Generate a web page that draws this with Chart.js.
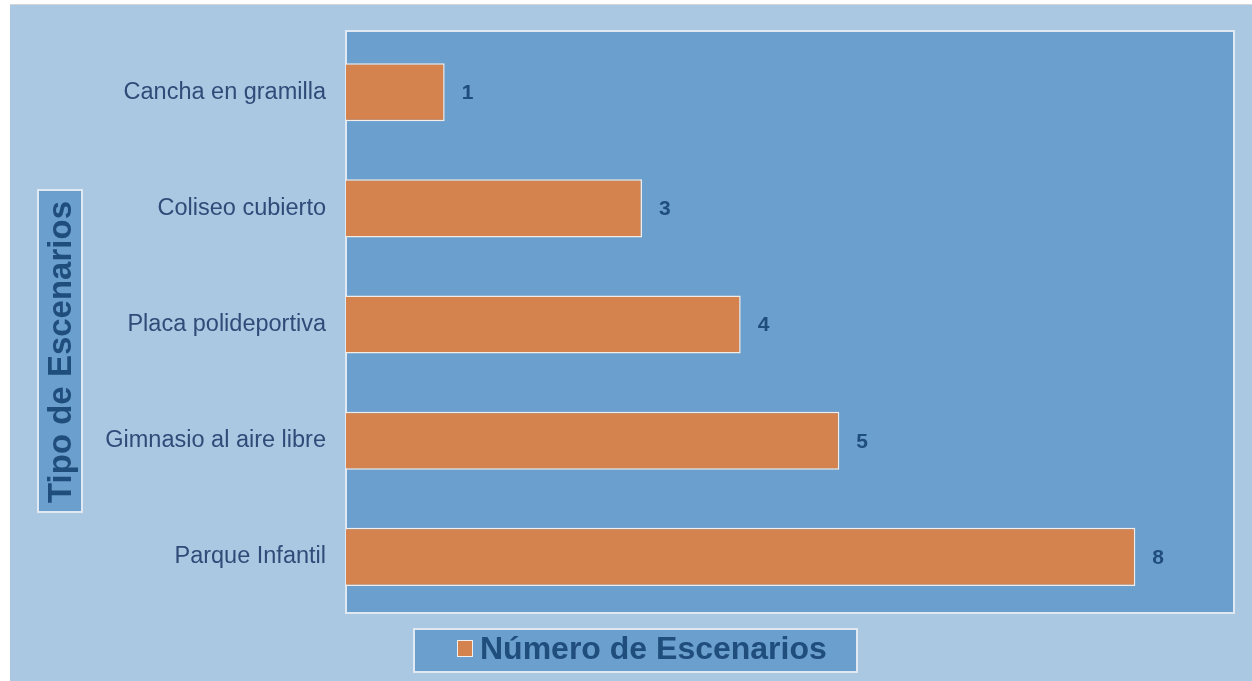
<!DOCTYPE html>
<html lang="es">
<head>
    <meta charset="UTF-8">
    <title>Tipo de Escenarios</title>
    <script src="https://cdn.jsdelivr.net/npm/chart.js@4.4.0/dist/chart.umd.min.js"></script>
    <style>
        html, body { margin: 0; padding: 0; background: #ffffff; }
        #wrap { width: 1252px; height: 681px; position: relative; }
    </style>
</head>
<body>
    <div id="wrap"><canvas id="chart"></canvas></div>

    <script>
        // --- Data ---
        const categories = ['Cancha en gramilla', 'Coliseo cubierto', 'Placa polideportiva', 'Gimnasio al aire libre', 'Parque Infantil'];
        const escenarios = [1, 3, 4, 5, 8];
        const seriesLabel = 'Número de Escenarios';
        const axisTitle = 'Tipo de Escenarios';

        const FONT = "'Liberation Sans', Arial, sans-serif";
        const OUTER_BG = '#abc8e3';
        const PLOT_BG = '#6b9fcd';
        const FRAME = '#e0e9f1';
        const BAR = '#d4834f';
        const DARK = '#1f4d7c';

        // Outer background + plot frame (frame kept at fixed spot, bars sit a bit lower)
        const backgroundPlugin = {
            id: 'backgrounds',
            beforeDraw(chart) {
                const { ctx, chartArea: a } = chart;
                const top = 31, bottom = 613;
                ctx.save();
                ctx.fillStyle = '#ffffff';
                ctx.fillRect(0, 0, chart.width, chart.height);
                ctx.fillStyle = '#d4d6d8';
                ctx.fillRect(10, 4, chart.width - 10, 1);
                ctx.fillStyle = OUTER_BG;
                ctx.fillRect(10, 5, chart.width - 10, chart.height - 5);
                ctx.fillStyle = PLOT_BG;
                ctx.fillRect(a.left, top, a.right - a.left, bottom - top);
                ctx.strokeStyle = FRAME;
                ctx.lineWidth = 2;
                ctx.strokeRect(a.left, top, a.right - a.left, bottom - top);
                ctx.restore();
            }
        };

        // Value labels, boxed axis title and boxed legend
        const decorPlugin = {
            id: 'decor',
            afterDatasetsDraw(chart) {
                const { ctx } = chart;
                const meta = chart.getDatasetMeta(0);
                ctx.save();
                ctx.fillStyle = DARK;
                ctx.font = 'bold 21px ' + FONT;
                ctx.textBaseline = 'middle';
                ctx.textAlign = 'left';
                meta.data.forEach((bar, i) => {
                    ctx.fillText(String(escenarios[i]), bar.x + 17, bar.y + 1);
                });

                // axis title box
                ctx.fillStyle = PLOT_BG;
                ctx.fillRect(38, 190, 44, 322);
                ctx.strokeStyle = FRAME;
                ctx.lineWidth = 2;
                ctx.strokeRect(38, 190, 44, 322);
                ctx.translate(61, 352);
                ctx.rotate(-Math.PI / 2);
                ctx.fillStyle = DARK;
                ctx.font = 'bold 33px ' + FONT;
                ctx.textAlign = 'center';
                ctx.fillText(axisTitle, 0, 1);
                ctx.setTransform(1, 0, 0, 1, 0, 0);

                // legend box
                ctx.fillStyle = PLOT_BG;
                ctx.fillRect(414, 629, 443, 43);
                ctx.strokeStyle = FRAME;
                ctx.strokeRect(414, 629, 443, 43);
                ctx.fillStyle = BAR;
                ctx.fillRect(458, 641, 14, 15);
                ctx.strokeStyle = '#f0f0f0';
                ctx.lineWidth = 1;
                ctx.strokeRect(457.5, 640.5, 15, 16);
                ctx.fillStyle = DARK;
                ctx.font = 'bold 32px ' + FONT;
                ctx.textAlign = 'left';
                ctx.fillText(seriesLabel, 480, 650);
                ctx.restore();
            }
        };

        new Chart(document.getElementById('chart'), {
            type: 'bar',
            data: {
                labels: categories,
                datasets: [{
                    label: seriesLabel,
                    data: escenarios,
                    backgroundColor: BAR,
                    borderColor: '#f2ede8',
                    borderWidth: 1.5,
                    categoryPercentage: 1,
                    barPercentage: 0.5
                }]
            },
            options: {
                indexAxis: 'y',
                responsive: true,
                maintainAspectRatio: false,
                animation: false,
                layout: { padding: { top: 32, bottom: 66, right: 18, left: 0 } },
                plugins: {
                    legend: { display: false },
                    tooltip: { enabled: false }
                },
                scales: {
                    x: {
                        display: false,
                        min: 0,
                        max: 9
                    },
                    y: {
                        grid: { display: false, drawTicks: false },
                        border: { display: false },
                        ticks: {
                            color: '#2f4b78',
                            font: { family: FONT, size: 23.5 },
                            padding: 20
                        },
                        afterFit(scale) { scale.width = 346; }
                    }
                }
            },
            plugins: [backgroundPlugin, decorPlugin]
        });
    </script>
</body>
</html>
